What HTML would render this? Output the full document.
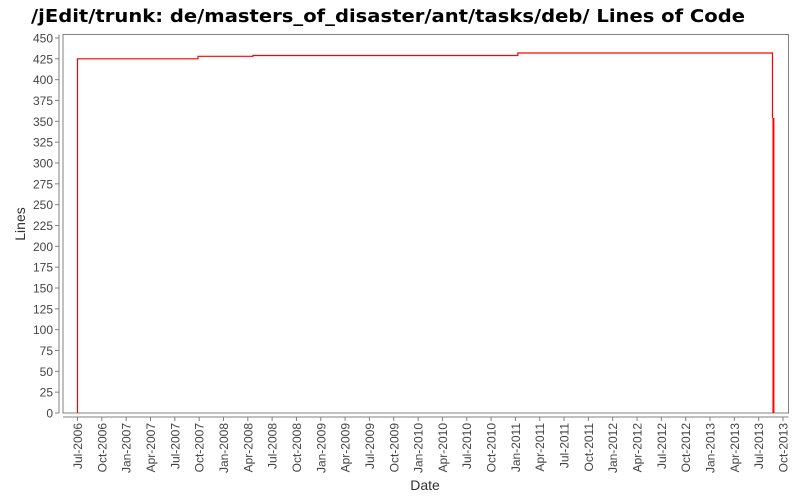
<!DOCTYPE html>
<html><head><meta charset="utf-8"><style>
html,body{margin:0;padding:0;background:#fff;width:800px;height:500px;overflow:hidden}
text{font-family:"Liberation Sans","DejaVu Sans",sans-serif}
</style></head><body>
<svg id="chart" width="800" height="500" xmlns="http://www.w3.org/2000/svg">
<text x="388" y="22" text-anchor="middle" font-size="18" font-weight="bold" fill="#000" style="font-family:'DejaVu Sans',sans-serif" textLength="714" lengthAdjust="spacingAndGlyphs">/jEdit/trunk: de/masters_of_disaster/ant/tasks/deb/ Lines of Code</text>
<rect x="63" y="34.5" width="725.5" height="378.5" fill="#fff" stroke="#808080" stroke-width="1"/>
<g id="yaxis"></g>
<g id="xaxis"></g>
<g id="series"></g>
<text transform="translate(25,224) rotate(-90)" text-anchor="middle" font-size="14" fill="#333">Lines</text>
<text x="425" y="490" text-anchor="middle" font-size="14" fill="#333">Date</text>
</svg>
<script>
// months since Jul-2006 for each change; values = lines of code
const stepMonths = [0, 14.86, 21.64, 54.3, 85.7, 85.82];
const stepValues = [425, 428, 429, 432, 354, 0];
const yTicks = [0,25,50,75,100,125,150,175,200,225,250,275,300,325,350,375,400,425,450];
const xTickLabels = ["Jul-2006","Oct-2006","Jan-2007","Apr-2007","Jul-2007","Oct-2007","Jan-2008","Apr-2008","Jul-2008","Oct-2008","Jan-2009","Apr-2009","Jul-2009","Oct-2009","Jan-2010","Apr-2010","Jul-2010","Oct-2010","Jan-2011","Apr-2011","Jul-2011","Oct-2011","Jan-2012","Apr-2012","Jul-2012","Oct-2012","Jan-2013","Apr-2013","Jul-2013","Oct-2013"];

const NS="http://www.w3.org/2000/svg";
function y(v){return 413-v*(375/450);}
function x(m){return 77.5+m*(705.5/87);}
function mk(tag,attrs,parent){const e=document.createElementNS(NS,tag);for(const k in attrs)e.setAttribute(k,attrs[k]);parent.appendChild(e);return e;}

const ya=document.getElementById('yaxis');
mk('line',{x1:59,y1:34.5,x2:59,y2:413,stroke:'#808080'},ya);
yTicks.forEach(v=>{
  const t=mk('line',{x1:55,x2:59,y1:y(v),y2:y(v),stroke:'#808080'},ya);
  
  
  const l=mk('text',{x:53,y:y(v)+4.5,'text-anchor':'end','font-size':'12',fill:'#444'},ya);
  l.textContent=v;
  
  
});

const xa=document.getElementById('xaxis');
mk('line',{x1:63,y1:417,x2:788.5,y2:417,stroke:'#808080'},xa);
xTickLabels.forEach((lab,i)=>{
  const px=x(i*3);
  const t=mk('line',{x1:px,x2:px,y1:417,y2:421,stroke:'#808080'},xa);
  
  
  const l=mk('text',{transform:`translate(${px+4.5},423) rotate(-90)`,'text-anchor':'end','font-size':'12',fill:'#444'},xa);
  l.textContent=lab;
  
  
});

const s=document.getElementById('series');
let d=`M${x(stepMonths[0])},${y(0)}`;
for(let i=0;i<stepMonths.length-2;i++){
  d+=` L${x(stepMonths[i])},${y(stepValues[i])} L${x(stepMonths[i+1])},${y(stepValues[i])}`;
}
const n=stepMonths.length;
d+=` L${x(stepMonths[n-2])},${y(stepValues[n-2])}`;
const p=mk('path',{d:d,fill:'none',stroke:'#ff0000','stroke-width':'1.2'},s);


const drop=mk('line',{x1:x(stepMonths[n-1]),x2:x(stepMonths[n-1]),y1:y(stepValues[n-2]),y2:y(stepValues[n-1]),stroke:'#ff0000','stroke-width':'2'},s);


</script>
</body></html>
